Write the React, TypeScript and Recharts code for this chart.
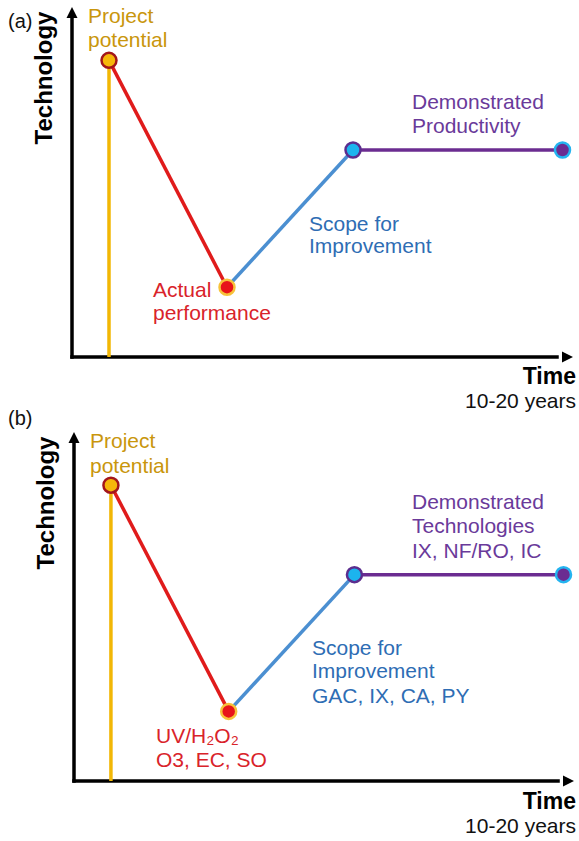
import React from 'react';
import { LineChart, Line, XAxis, YAxis, ReferenceLine, ReferenceDot } from 'recharts';

// stages: project potential, actual performance, scope for improvement, demonstrated
const stageX = [7.4, 31, 56.2, 98.1];
const stageY = [85, 20, 59.3, 59.3];
const baseY = 0;
const axisLen = 97;
const arrowAt = 100;

const lineColors = ['#f2b705', '#e01b1b', '#4b8fd1', '#6b2c91'];
const dotFill = ['#f6b70a', '#e8141a', '#1cb4ee', '#6b2c91'];
const dotStroke = ['#a3161a', '#f7c23a', '#5b2d8e', '#24b4f0'];

const GOLD = '#c9960c';
const RED = '#d9232a';
const BLUE = '#2e6db4';
const PURPLE = '#6a3a9a';
const FONT = '"Liberation Sans", Arial, sans-serif';

const pt = (i: number) => ({ x: stageX[i], y: stageY[i] });
const segments = [
  [{ x: stageX[0], y: baseY }, pt(0)],
  [pt(0), pt(1)],
  [pt(1), pt(2)],
  [pt(2), pt(3)],
];

const ArrowRight = (p: any) => (
  <polygon points={`${p.cx + 1},${p.cy} ${p.cx - 10},${p.cy - 5.5} ${p.cx - 10},${p.cy + 5.5}`} fill="#000" />
);
const ArrowUp = (p: any) => (
  <polygon points={`${p.cx},${p.cy - 1} ${p.cx - 5.5},${p.cy + 10} ${p.cx + 5.5},${p.cy + 10}`} fill="#000" />
);

function Panel({ height, margin }: { height: number; margin: any }) {
  return (
    <LineChart width={579} height={height} margin={margin}>
      <XAxis type="number" dataKey="x" domain={[0, 100]} hide allowDataOverflow />
      <YAxis type="number" dataKey="y" domain={[0, 100]} hide allowDataOverflow />
      <ReferenceLine segment={[{ x: 0, y: 0 }, { x: 0, y: axisLen }]} stroke="#000" strokeWidth={3.5} strokeLinecap="square" />
      <ReferenceLine segment={[{ x: 0, y: 0 }, { x: axisLen, y: 0 }]} stroke="#000" strokeWidth={3.5} strokeLinecap="square" />
      <ReferenceDot x={arrowAt} y={0} r={1} shape={ArrowRight} />
      <ReferenceDot x={0} y={arrowAt} r={1} shape={ArrowUp} />
      {segments.map((seg, i) => (
        <Line
          key={i}
          data={seg}
          dataKey="y"
          type="linear"
          stroke={lineColors[i]}
          strokeWidth={3.5}
          dot={false}
          activeDot={false}
          isAnimationActive={false}
        />
      ))}
      {stageX.map((x, i) => (
        <ReferenceDot key={i} x={x} y={stageY[i]} r={7.5} fill={dotFill[i]} stroke={dotStroke[i]} strokeWidth={2.5} />
      ))}
    </LineChart>
  );
}

function Lines({ x, ys, lines, color }: { x: number; ys: number[]; lines: string[]; color: string }) {
  return (
    <>
      {lines.map((t, i) => (
        <text key={i} x={x} y={ys[i]} fill={color} fontSize={21}>
          {t}
        </text>
      ))}
    </>
  );
}

export default function App() {
  return (
    <div style={{ position: 'absolute', left: 0, top: 0, width: 579, height: 841, background: '#fff', overflow: 'hidden' }}>
      <div style={{ position: 'absolute', left: 0, top: 0 }}>
        <Panel height={424} margin={{ top: 8, right: 7, left: 72, bottom: 67 }} />
      </div>
      <div style={{ position: 'absolute', left: 0, top: 424 }}>
        <Panel height={417} margin={{ top: 9, right: 6, left: 74, bottom: 60 }} />
      </div>
      <svg width={579} height={841} style={{ position: 'absolute', left: 0, top: 0, pointerEvents: 'none' }} fontFamily={FONT}>
        {/* panel (a) */}
        <text x={8} y={28} fontSize={20} fill="#111">(a)</text>
        <text transform="translate(52,78) rotate(-90)" textAnchor="middle" fontSize={24} fontWeight="bold" fill="#000">Technology</text>
        <Lines x={88} ys={[23, 47]} lines={['Project', 'potential']} color={GOLD} />
        <Lines x={153} ys={[297, 320]} lines={['Actual', 'performance']} color={RED} />
        <Lines x={309} ys={[231, 253]} lines={['Scope for', 'Improvement']} color={BLUE} />
        <Lines x={412} ys={[109, 133]} lines={['Demonstrated', 'Productivity']} color={PURPLE} />
        <text x={576} y={384} textAnchor="end" fontSize={23} fontWeight="bold" fill="#000">Time</text>
        <text x={576} y={408} textAnchor="end" fontSize={21} fill="#111">10-20 years</text>

        {/* panel (b) */}
        <text x={8} y={425} fontSize={20} fill="#111">(b)</text>
        <text transform="translate(54,503) rotate(-90)" textAnchor="middle" fontSize={24} fontWeight="bold" fill="#000">Technology</text>
        <Lines x={90} ys={[448, 473]} lines={['Project', 'potential']} color={GOLD} />
        <Lines x={156} ys={[743, 767]} lines={['UV/H₂O₂', 'O3, EC, SO']} color={RED} />
        <Lines x={312} ys={[655, 678, 703]} lines={['Scope for', 'Improvement', 'GAC, IX, CA, PY']} color={BLUE} />
        <Lines x={412} ys={[509, 533, 558]} lines={['Demonstrated', 'Technologies', 'IX, NF/RO, IC']} color={PURPLE} />
        <text x={576} y={809} textAnchor="end" fontSize={23} fontWeight="bold" fill="#000">Time</text>
        <text x={576} y={833} textAnchor="end" fontSize={21} fill="#111">10-20 years</text>
      </svg>
    </div>
  );
}
